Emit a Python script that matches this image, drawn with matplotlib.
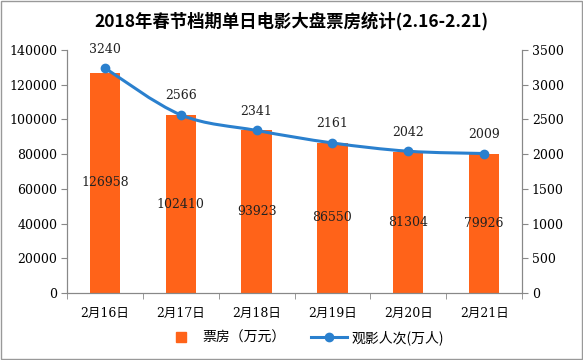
import numpy as np
import matplotlib
matplotlib.use("Agg")
import matplotlib.pyplot as plt
from matplotlib.path import Path
from matplotlib.patches import PathPatch, Rectangle

plt.rcParams['font.family'] = ['DejaVu Serif', 'Noto Sans CJK SC', 'DejaVu Sans']

# 数据
dates = ["2月16日", "2月17日", "2月18日", "2月19日", "2月20日", "2月21日"]
box_office = [126958, 102410, 93923, 86550, 81304, 79926]   # 万元
audience = [3240, 2566, 2341, 2161, 2042, 2009]             # 万人

bar_color = "#FF6319"
line_color = "#2A80CE"
axis_color = "#888888"
fs = 9

fig = plt.figure(figsize=(5.83, 3.6), dpi=100)
ax = fig.add_axes([67 / 583, 67 / 360, 455 / 583, 243 / 360])
ax2 = ax.twinx()

x = np.arange(len(dates))
ax.bar(x, box_office, width=0.4, color=bar_color, zorder=2)
for xi, v in zip(x, box_office):
    ax.text(xi, v / 2, str(v), ha="center", va="center", fontsize=fs, color="#222222", zorder=3)

# 平滑曲线 (Catmull-Rom -> Bezier)
pts = np.column_stack([x, audience]).astype(float)
verts = [tuple(pts[0])]
codes = [Path.MOVETO]
for i in range(len(pts) - 1):
    p0 = pts[i - 1] if i > 0 else pts[i]
    p1, p2 = pts[i], pts[i + 1]
    p3 = pts[i + 2] if i + 2 < len(pts) else pts[i + 1]
    c1 = p1 + (p2 - p0) / 6
    c2 = p2 - (p3 - p1) / 6
    verts += [tuple(c1), tuple(c2), tuple(p2)]
    codes += [Path.CURVE4] * 3
ax2.add_patch(PathPatch(Path(verts, codes), fill=False, edgecolor=line_color, lw=2.2, zorder=4))
ax2.plot(x, audience, ls="none", marker="o", ms=6, color=line_color, zorder=5)
for xi, v in zip(x, audience):
    ax2.annotate(str(v), (xi, v), xytext=(0, 9), textcoords="offset points",
                 ha="center", va="bottom", fontsize=fs, color="#222222")

ax.set_xlim(-0.5, len(dates) - 0.5)
ax.set_ylim(0, 140000)
ax.set_yticks(range(0, 140001, 20000))
ax2.set_ylim(0, 3500)
ax2.set_yticks(range(0, 3501, 500))

ax.set_xticks(x)
ax.set_xticklabels(dates, fontsize=fs)
ax.set_xticks(np.arange(-0.5, len(dates), 1), minor=True)
ax.tick_params(axis="x", which="major", length=0, pad=10)
ax.tick_params(axis="x", which="minor", length=4, color=axis_color)
ax.tick_params(axis="y", length=4, color=axis_color, labelsize=fs, pad=3)
ax2.tick_params(axis="y", length=4, color=axis_color, labelsize=fs, pad=3)

for a in (ax, ax2):
    a.spines["top"].set_visible(False)
    for s in ("left", "right", "bottom"):
        a.spines[s].set_color(axis_color)

fig.suptitle("2018年春节档期单日电影大盘票房统计(2.16-2.21)", y=0.968, fontsize=12.5,
             fontweight="bold", family=["Noto Sans CJK SC", "DejaVu Sans"])

# 图例
bar_handle = plt.Line2D([], [], ls="none", marker="s", ms=7, color=bar_color)
line_handle = plt.Line2D([], [], color=line_color, lw=2.2, marker="o", ms=6)
fig.legend([bar_handle, line_handle], ["票房（万元）", "观影人次(万人)"], loc="center",
           bbox_to_anchor=(0.52, 0.062), ncol=2, frameon=False,
           handlelength=2.6, columnspacing=1.8, handletextpad=0.3,
           prop={"family": ["Noto Sans CJK SC", "DejaVu Sans"], "size": 10})

fig.add_artist(Rectangle((0.001, 0.002), 0.997, 0.995, transform=fig.transFigure,
                         fill=False, edgecolor="#999999", lw=1))

fig.savefig("out.png", dpi=100)
